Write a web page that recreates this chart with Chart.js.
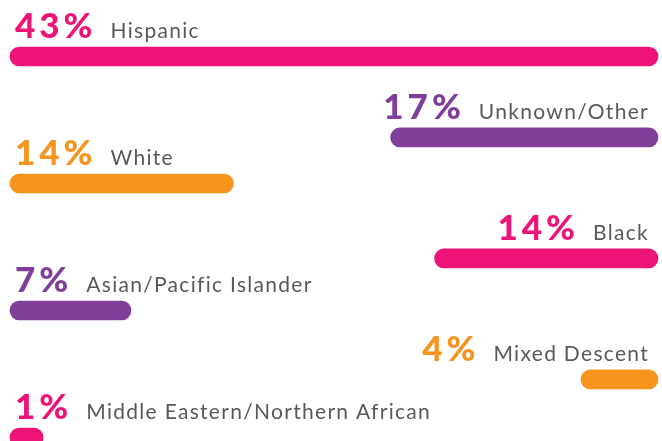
<html lang="en">
<head>
    <meta charset="UTF-8">
    <title>Share by ethnicity</title>
    <script src="https://cdn.jsdelivr.net/npm/chart.js"></script>
    <style>
        body { margin: 0; background: #fff; overflow: hidden; }
        .wrap { width: 662px; height: 441px; position: relative; }
    </style>
</head>
<body>
    <div class="wrap">
        <canvas id="ethnicity"></canvas>
    </div>
    <script>
        // data
        var categories = ['Hispanic', 'Unknown/Other', 'White', 'Black', 'Asian/Pacific Islander', 'Mixed Descent', 'Middle Eastern/Northern African'];
        var shares = [43, 17, 14, 14, 7, 4, 1];
        var sides = ['left', 'right', 'left', 'right', 'left', 'right', 'left'];

        // styling
        var palette = ['#ED1478', '#7F3F98', '#F7941D'];
        var capUnits = 1.26; // rounded end sticks out past zero

        function colorFor(i) { return palette[i % 3]; }

        var leftRows = [], rightRows = [];
        sides.forEach(function (s, i) { (s === 'left' ? leftRows : rightRows).push(i); });

        var leftData = leftRows.map(function (i) { return shares[i]; });
        var rightData = rightRows.map(function (i, j) { return { x: shares[i], y: j }; });

        function barStyle(rows) {
            return {
                backgroundColor: rows.map(colorFor),
                barThickness: 19,
                borderRadius: 9.5,
                borderSkipped: false,
                grouped: false,
                clip: false,
                base: -capUnits,
                rows: rows
            };
        }

        var pctFont = '900 35px Lato';
        var nameFont = '21px Lato';

        var labelPlugin = {
            id: 'rowLabels',
            afterDatasetsDraw: function (chart) {
                var ctx = chart.ctx;
                chart.data.datasets.forEach(function (ds, di) {
                    var meta = chart.getDatasetMeta(di);
                    meta.data.forEach(function (bar, k) {
                        var i = ds.rows[k];
                        var y = bar.y - 9.5 - 9;
                        var pct = shares[i] + '%';
                        var name = categories[i];
                        ctx.save();
                        ctx.textBaseline = 'alphabetic';
                        ctx.textAlign = 'left';
                        ctx.font = pctFont;
                        ctx.letterSpacing = '4px';
                        var pw = ctx.measureText(pct).width;
                        ctx.font = nameFont;
                        ctx.letterSpacing = '1.3px';
                        var nw = ctx.measureText(name).width;
                        var x0;
                        if (sides[i] === 'left') {
                            x0 = bar.base + 5;
                        } else {
                            x0 = bar.base - 9 - nw - 14 - pw;
                        }
                        ctx.font = pctFont;
                        ctx.letterSpacing = '4px';
                        ctx.fillStyle = colorFor(i);
                        ctx.fillText(pct, x0, y);
                        ctx.font = nameFont;
                        ctx.letterSpacing = '1.3px';
                        ctx.fillStyle = '#58595B';
                        ctx.fillText(name, x0 + pw + 14, y);
                        ctx.restore();
                    });
                });
            }
        };

        var ctx = document.getElementById('ethnicity').getContext('2d');
        var myChart = new Chart(ctx, {
            type: 'bar',
            data: {
                datasets: [
                    Object.assign({ label: 'left', data: leftData, xAxisID: 'x', yAxisID: 'y' }, barStyle(leftRows)),
                    Object.assign({ label: 'right', data: rightData, xAxisID: 'x2', yAxisID: 'y2' }, barStyle(rightRows))
                ]
            },
            options: {
                indexAxis: 'y',
                responsive: true,
                maintainAspectRatio: false,
                animation: false,
                layout: {
                    padding: { left: 10, right: 4, top: 56.5, bottom: 3.5 }
                },
                plugins: {
                    legend: { display: false },
                    tooltip: { enabled: false }
                },
                scales: {
                    x: { display: false, min: -capUnits, max: 43, bounds: 'data' },
                    x2: { display: false, min: -capUnits, max: 43, reverse: true, bounds: 'data' },
                    y: { type: 'category', labels: leftRows.map(function (i) { return categories[i]; }), display: false, offset: false },
                    y2: { type: 'linear', display: false, reverse: true, offset: false, min: -0.669, max: 2.48, bounds: 'data' }
                }
            },
            plugins: [labelPlugin]
        });
    </script>
</body>
</html>
